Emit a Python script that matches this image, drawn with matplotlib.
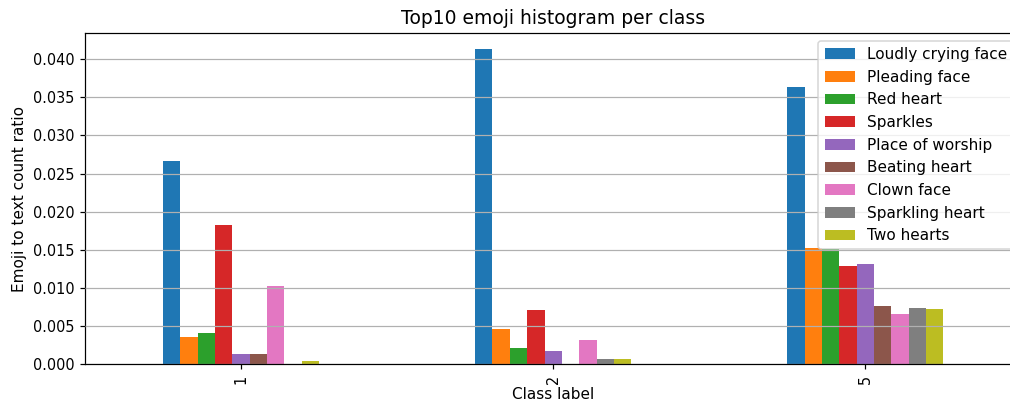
import numpy as np
import matplotlib
matplotlib.use("Agg")
import matplotlib.pyplot as plt

class_labels = ["1", "2", "5"]
emoji_names = ["Loudly crying face", "Pleading face", "Red heart", "Sparkles",
               "Place of worship", "Beating heart", "Clown face",
               "Sparkling heart", "Two hearts"]

# ratio per class (1, 2, 5) for each emoji
loudly_crying = [0.0267, 0.0413, 0.0364]
pleading = [0.0036, 0.0046, 0.0153]
red_heart = [0.0041, 0.0021, 0.0151]
sparkles = [0.0182, 0.0071, 0.0129]
place_of_worship = [0.0013, 0.0018, 0.0132]
beating_heart = [0.0013, 0.0, 0.0077]
clown_face = [0.0103, 0.0032, 0.0066]
sparkling_heart = [0.0, 0.0007, 0.0074]
two_hearts = [0.0004, 0.0007, 0.0073]

series = [loudly_crying, pleading, red_heart, sparkles, place_of_worship,
          beating_heart, clown_face, sparkling_heart, two_hearts]
colors = plt.rcParams['axes.prop_cycle'].by_key()['color']

dpi = 110
fig = plt.figure(figsize=(1010 / dpi, 407 / dpi), dpi=dpi)
ax = fig.add_axes([0.0842, 0.105, 0.927, 0.813])

x = np.arange(len(class_labels))
n = len(series)
width = 0.5 / n
for i, (name, vals) in enumerate(zip(emoji_names, series)):
    offset = (i - (n - 1) / 2) * width
    ax.bar(x + offset, vals, width, label=name, color=colors[i % len(colors)])

ax.set_xlim(-0.5, 2.5)
ax.set_ylim(0, 1.05 * max(max(s) for s in series))
ax.set_xticks(x)
ax.set_xticklabels(class_labels, rotation=90)
ax.set_yticks(np.arange(0, 0.0401, 0.005))
ax.yaxis.set_major_formatter(matplotlib.ticker.FormatStrFormatter('%.3f'))
ax.tick_params(labelsize=9.5)
ax.set_axisbelow(False)
ax.grid(True, axis='y', color='#b0b0b0', linewidth=0.8)
ax.set_title('Top10 emoji histogram per class', fontsize=12.3)
ax.set_xlabel('Class label', labelpad=2)
ax.set_ylabel('Emoji to text count ratio')
ax.legend(loc='upper right')

fig.savefig('out.png', dpi=dpi)
